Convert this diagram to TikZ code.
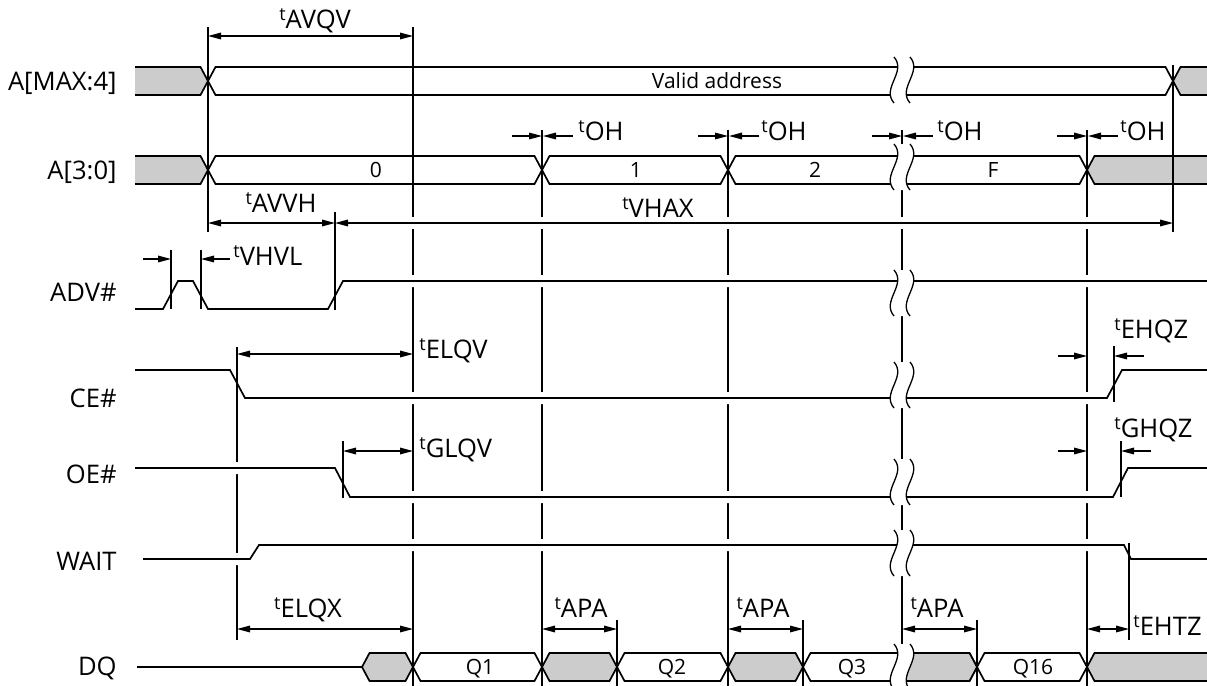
\documentclass[tikz,border=0pt]{standalone}
\usepackage{fontspec}
\setmainfont{Open Sans}
\usetikzlibrary{arrows.meta, positioning, calc}

\newcommand{\tlab}[1]{\raisebox{3.6pt}{\fontsize{9}{9}\selectfont t}#1}
\newcommand{\busseg}[4][]{%
  \draw[bus,#1] (#2,#4) -- (#2+7.5,#4-14) -- (#3-7.5,#4-14) -- (#3,#4)
    -- (#3-7.5,#4+14) -- (#2+7.5,#4+14) -- cycle;}
\newcommand{\busin}[2]{%
  \fill[invalid] (135,#2-14) -- (#1-7.5,#2-14) -- (#1,#2) -- (#1-7.5,#2+14) -- (135,#2+14) -- cycle;
  \draw[bus] (135,#2-14) -- (#1-7.5,#2-14) -- (#1,#2) -- (#1-7.5,#2+14) -- (135,#2+14);}
\newcommand{\busout}[2]{%
  \fill[invalid] (1208,#2-14) -- (#1+7.5,#2-14) -- (#1,#2) -- (#1+7.5,#2+14) -- (1208,#2+14) -- cycle;
  \draw[bus] (1208,#2-14) -- (#1+7.5,#2-14) -- (#1,#2) -- (#1+7.5,#2+14) -- (1208,#2+14);}
\newcommand{\cut}[1]{%
  \fill[white] (894,#1-23) .. controls (907,#1-8) and (881,#1+8) .. (894,#1+23)
    -- (910,#1+23) .. controls (897,#1+8) and (923,#1-8) .. (910,#1-23) -- cycle;
  \draw[cutline] (894,#1-23) .. controls (907,#1-8) and (881,#1+8) .. (894,#1+23);
  \draw[cutline] (910,#1-23) .. controls (923,#1-8) and (897,#1+8) .. (910,#1+23);}

\tikzset{
  bus/.style={line width=0.85pt},
  invalid/.style={fill=black!20},
  sig/.style={line width=0.85pt, preaction={draw=white, line width=6pt}},
  guide/.style={line width=0.75pt},
  dim/.style={line width=0.65pt},
  cutline/.style={line width=0.65pt},
  rowname/.style={anchor=east, inner sep=0pt, text height=9.1pt, text depth=0pt,
    font=\fontsize{12.8}{14}\selectfont},
  tname/.style={inner sep=0pt, font=\fontsize{12.8}{14}\selectfont},
  busval/.style={inner sep=0pt, text height=7.5pt, text depth=0pt,
    font=\fontsize{10.5}{12}\selectfont},
}

\begin{document}
\begin{tikzpicture}[x=0.5pt, y=-0.5pt, >={Triangle[length=6.5pt,width=3.3pt]}]
    \useasboundingbox (0,0) rectangle (1207,686);

    \busin{208}{81}
    \busseg{208}{1173}{81}
    \busout{1173}{81}

    \busin{208}{170}
    \busseg{208}{542}{170}
    \busseg{542}{728}{170}
    \busseg{728}{1087}{170}
    \busout{1087}{170}

    \draw[bus] (137,667) -- (362,667);
    \busseg[invalid]{362}{413}{667}
    \busseg{413}{542}{667}
    \busseg[invalid]{542}{617}{667}
    \busseg{617}{728}{667}
    \busseg[invalid]{728}{803}{667}
    \busseg{803}{977}{667}
    \filldraw[bus, invalid] (902,653) -- (969.5,653) -- (977,667) -- (969.5,681) -- (902,681) -- cycle;
    \busseg{977}{1087}{667}
    \busout{1087}{667}

    \draw[guide] (413,27) -- (413,686);
    \foreach \x in {542,728,902,1087}
        \draw[guide] (\x,130) -- (\x,686);
    \draw[guide] (237,347) -- (237,640);

    \draw[sig] (135,309) -- (163,309) -- (178,281) -- (193,281) -- (208,309)
        -- (328,309) -- (343,281) -- (1208,281);
    \draw[sig] (135,370) -- (230,370) -- (245,398) -- (1107,398) -- (1122,370) -- (1208,370);
    \draw[sig] (135,468) -- (335,468) -- (350,497) -- (1113,497) -- (1128,468) -- (1208,468);
    \draw[sig] (143,559) -- (250,559) -- (259,545) -- (1124,545) -- (1131,559) -- (1208,559);

    \draw[white, line width=6pt] (345,223) -- (1163,223);
    \draw[dim, <->] (335,223) -- (1173,223);

    \foreach \y in {80,167,293,385,482,553,667} {
        \cut{\y}
    }

    \draw[guide] (208,27) -- (208,232);
    \draw[guide] (335,212) -- (335,310);
    \draw[guide] (1173,65) -- (1173,232);
    \draw[guide] (171,250) -- (171,309);
    \draw[guide] (201,250) -- (201,309);
    \draw[guide] (237,347) -- (237,410);
    \draw[guide] (343,441) -- (343,498);
    \draw[guide] (1114,346) -- (1114,402);
    \draw[guide] (1121,441) -- (1121,497);
    \draw[guide] (1129,543) -- (1129,640);
    \foreach \x in {617,803,977}
        \draw[guide] (\x,620) -- (\x,686);

    \draw[dim, <->] (208,36) -- (413,36);
    \draw[dim, <->] (208,223) -- (335,223);
    \foreach \x in {542,728,902,1087} {
        \draw[dim, ->] (\x-30,136) -- (\x,136);
        \draw[dim, ->] (\x+31,136) -- (\x+1,136);
    }
    \draw[dim, ->] (143,259) -- (171,259);
    \draw[dim, ->] (230,259) -- (201,259);
    \draw[dim, <->] (237,354) -- (413,354);
    \draw[dim, ->] (1058,356) -- (1087,356);
    \draw[dim, ->] (1144,356) -- (1114,356);
    \draw[dim, <->] (343,451) -- (413,451);
    \draw[dim, ->] (1058,451) -- (1087,451);
    \draw[dim, ->] (1151,451) -- (1121,451);
    \draw[dim, <->] (237,629) -- (413,629);
    \foreach \x in {542,728,902}
        \draw[dim, <->] (\x,629) -- (\x+75,629);
    \draw[dim, <->] (1087,629) -- (1129,629);

    \node[rowname] (amax) at (117,81) {A[MAX:4]};
    \node[rowname] (alow) at (117,170) {A[3:0]};
    \node[rowname] (adv) at (117,292) {ADV\#};
    \node[rowname] (ce) at (117,398) {CE\#};
    \node[rowname] (oe) at (117,474) {OE\#};
    \node[rowname] (wait) at (117,561) {WAIT};
    \node[rowname] (dq) at (117,666) {DQ};

    \node[busval] (valid) at (717,81) {Valid address};
    \node[busval] (a0) at (376,170) {0};
    \node[busval] (a1) at (636,170) {1};
    \node[busval] (a2) at (815,170) {2};
    \node[busval] (aF) at (993,170) {F};
    \node[busval] (q1) at (480,667) {Q1};
    \node[busval] (q2) at (672,667) {Q2};
    \node[busval] (q3) at (852,667) {Q3};
    \node[busval] (q16) at (1033,667) {Q16};

    \node[tname, anchor=base] (avqv) at (315,28) {\tlab{AVQV}};
    \node[tname, anchor=base] (avvh) at (281,212) {\tlab{AVVH}};
    \node[tname, anchor=base] (vhax) at (658,217) {\tlab{VHAX}};
    \node[tname, anchor=base west] (oh1) at (578,140) {\tlab{OH}};
    \node[tname, anchor=base west] (oh2) at (761,140) {\tlab{OH}};
    \node[tname, anchor=base west] (oh3) at (937,140) {\tlab{OH}};
    \node[tname, anchor=base west] (oh4) at (1120,140) {\tlab{OH}};
    \node[tname, anchor=base west] (vhvl) at (233,265) {\tlab{VHVL}};
    \node[tname, anchor=base west] (elqv) at (419,358) {\tlab{ELQV}};
    \node[tname, anchor=base west] (glqv) at (419,457) {\tlab{GLQV}};
    \node[tname, anchor=base west] (ehqz) at (1114,338) {\tlab{EHQZ}};
    \node[tname, anchor=base west] (ghqz) at (1114,437) {\tlab{GHQZ}};
    \node[tname, anchor=base] (elqx) at (308,617) {\tlab{ELQX}};
    \node[tname, anchor=base] (apa1) at (581,617) {\tlab{APA}};
    \node[tname, anchor=base] (apa2) at (763,617) {\tlab{APA}};
    \node[tname, anchor=base] (apa3) at (937,617) {\tlab{APA}};
    \node[tname, anchor=base west] (ehtz) at (1133,635) {\tlab{EHTZ}};
\end{tikzpicture}
\end{document}
